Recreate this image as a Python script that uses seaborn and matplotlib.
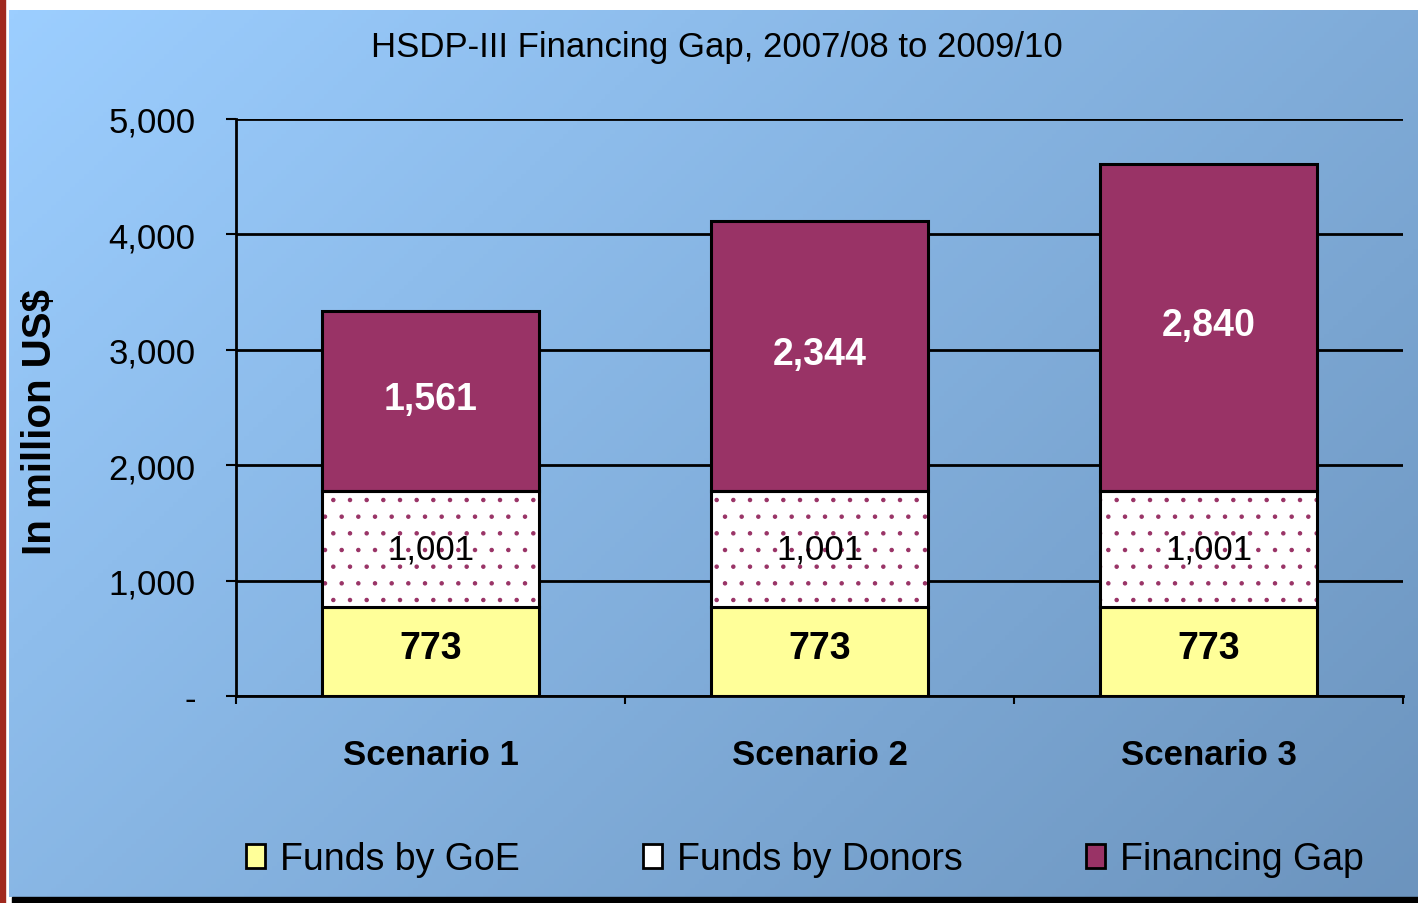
import numpy as np
import pandas as pd
import matplotlib
matplotlib.use("Agg")
import matplotlib.pyplot as plt
import matplotlib.patches as mpatches
from matplotlib.colors import LinearSegmentedColormap
from matplotlib.ticker import FuncFormatter, FixedLocator
import seaborn as sns

scenarios = ["Scenario 1", "Scenario 2", "Scenario 3"]
goe = [773, 773, 773]
donors = [1001, 1001, 1001]
gap = [1561, 2344, 2840]
series_names = ["Funds by GoE", "Funds by Donors", "Financing Gap"]
title = "HSDP-III Financing Gap, 2007/08 to 2009/10"
ylabel = "In million US$"
yticks = [0, 1000, 2000, 3000, 4000, 5000]

YELLOW = "#FFFF99"
PLUM = "#993366"

sns.set_style("white")
plt.rcParams["font.family"] = ["Liberation Sans", "DejaVu Sans"]
plt.rcParams["text.color"] = "black"
plt.rcParams["xtick.color"] = "black"
plt.rcParams["ytick.color"] = "black"
plt.rcParams["hatch.linewidth"] = 0.8

df = pd.DataFrame({"scenario": scenarios, "goe": goe, "donors": donors, "gap": gap})
df["donor_base"] = df["goe"]
df["gap_base"] = df["goe"] + df["donors"]

W, H = 1418, 904
fig = plt.figure(figsize=(W / 100, H / 100), dpi=100)
fig.patch.set_facecolor("white")

# gradient background
bg = fig.add_axes([9 / W, 6 / H, (W - 9) / W, (H - 11 - 6) / H])
gx, gy = np.meshgrid(np.linspace(0, 1, 300), np.linspace(0, 1, 200))
grad = (gx * 0.6 + gy * 0.4)
cmap = LinearSegmentedColormap.from_list("bg", ["#9CCEFF", "#6C94BE"])
bg.imshow(grad, cmap=cmap, aspect="auto", extent=[0, 1, 0, 1], origin="upper")
bg.set_axis_off()
bg.set_zorder(-10)

fig.add_artist(mpatches.Rectangle((0, 0), 5 / W, 1, transform=fig.transFigure,
                                  color="#A0281E", zorder=5))
fig.add_artist(mpatches.Rectangle((12 / W, 0), 1, 6 / H, transform=fig.transFigure,
                                  color="black", zorder=5))

ax = fig.add_axes([236 / W, (H - 697) / H, (1403 - 236) / W, (697 - 120) / H])
ax.patch.set_alpha(0)

bw = 0.56
sns.barplot(data=df, x="scenario", y="goe", color=YELLOW, saturation=1, width=bw,
            edgecolor="black", linewidth=2.2, ax=ax, zorder=3)
sns.barplot(data=df, x="scenario", y="donors", bottom=df["donor_base"], color="white",
            saturation=1, width=bw, hatch=".", edgecolor=PLUM, linewidth=0, ax=ax, zorder=3)
sns.barplot(data=df, x="scenario", y="donors", bottom=df["donor_base"], color="black",
            facecolor="none", width=bw, edgecolor="black", linewidth=2.2, ax=ax, zorder=4)
sns.barplot(data=df, x="scenario", y="gap", bottom=df["gap_base"], color=PLUM,
            saturation=1, width=bw, edgecolor="black", linewidth=2.2, ax=ax, zorder=3)

for i in range(len(scenarios)):
    ax.text(i, goe[i] / 2 + 30, f"{goe[i]:,}", ha="center", va="center",
            fontsize=27, fontweight="bold", color="black", zorder=6)
    ax.text(i, goe[i] + donors[i] / 2, f"{donors[i]:,}", ha="center", va="center",
            fontsize=25, color="black", zorder=6)
    ax.text(i, goe[i] + donors[i] + gap[i] / 2 + 20, f"{gap[i]:,}", ha="center", va="center",
            fontsize=27, fontweight="bold", color="white", zorder=6)

ax.set_xlim(-0.5, 2.5)
ax.set_ylim(0, 5000)
ax.set_yticks(yticks)
ax.yaxis.set_major_formatter(FuncFormatter(lambda v, p: "-" if v == 0 else f"{int(v):,}"))
ax.grid(axis="y", color="black", linewidth=2, zorder=0)
ax.set_axisbelow(True)
for s in ["top", "right"]:
    ax.spines[s].set_visible(False)
for s in ["left", "bottom"]:
    ax.spines[s].set_color("black")
    ax.spines[s].set_linewidth(2)
ax.tick_params(axis="y", direction="out", length=7, width=1.5, labelsize=25, pad=22, left=True)
ax.tick_params(axis="x", which="major", length=0, labelsize=25, pad=30)
ax.xaxis.set_minor_locator(FixedLocator([-0.5, 0.5, 1.5, 2.5]))
ax.tick_params(axis="x", which="minor", direction="out", length=6, width=1.5, bottom=True)
for lab in ax.get_xticklabels():
    lab.set_fontweight("bold")
ax.set_xlabel("")
ax.set_ylabel("")

fig.text(40 / W, 1 - 422 / H, ylabel, rotation=90, ha="center", va="center",
         fontsize=29, fontweight="bold")
fig.text(717 / W, 1 - 47 / H, title, ha="center", va="center", fontsize=25)

handles = [
    mpatches.Patch(facecolor=YELLOW, edgecolor="black", linewidth=2),
    mpatches.Patch(facecolor="white", edgecolor="black", linewidth=2),
    mpatches.Patch(facecolor=PLUM, edgecolor="black", linewidth=2),
]
fig.legend(handles, series_names, loc="center", bbox_to_anchor=(805 / W, 1 - 860 / H),
           ncol=3, frameon=False, fontsize=27, handlelength=0.5, handleheight=0.6,
           handletextpad=0.4, columnspacing=3.3)

fig.savefig("out.png", dpi=100)
